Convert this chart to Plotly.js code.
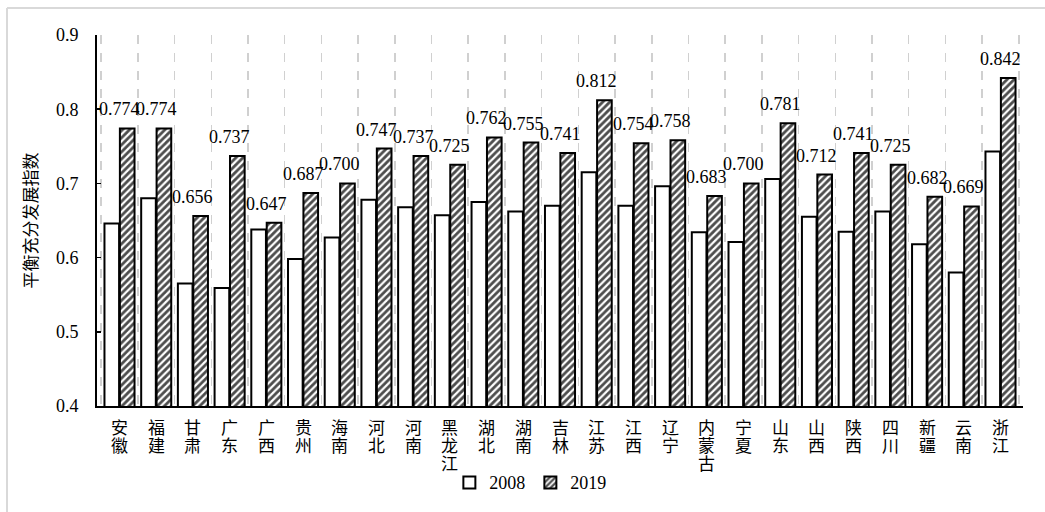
<!DOCTYPE html>
<html>
<head>
<meta charset="utf-8">
<script src="https://cdn.plot.ly/plotly-3.0.1.min.js"></script>
<style>
  html, body { margin: 0; padding: 0; background: #fff; }
  #chart { width: 1045px; height: 512px; }
</style>
</head>
<body>
<div id="chart"></div>
<script>
// Provinces along the horizontal axis
const provinces = ['安徽', '福建', '甘肃', '广东', '广西', '贵州', '海南', '河北', '河南', '黑龙江',
  '湖北', '湖南', '吉林', '江苏', '江西', '辽宁', '内蒙古', '宁夏', '山东', '山西',
  '陕西', '四川', '新疆', '云南', '浙江'];

// Index values, 2008
const values2008 = [0.646, 0.680, 0.565, 0.559, 0.638, 0.598, 0.627, 0.678, 0.668, 0.657,
  0.675, 0.662, 0.670, 0.715, 0.670, 0.696, 0.634, 0.621, 0.706, 0.655,
  0.635, 0.662, 0.618, 0.580, 0.743];

// Index values, 2019
const values2019 = [0.774, 0.774, 0.656, 0.737, 0.647, 0.687, 0.700, 0.747, 0.737, 0.725,
  0.762, 0.755, 0.741, 0.812, 0.754, 0.758, 0.683, 0.700, 0.781, 0.712,
  0.741, 0.725, 0.682, 0.669, 0.842];

const yTicks = [0.4, 0.5, 0.6, 0.7, 0.8, 0.9];
const seriesNames = ['2008', '2019'];
const yTitle = '平衡充分发展指数';

const numFont = '"Liberation Serif", "Times New Roman", "Noto Sans CJK SC", serif';
const cjkFont = '"Liberation Serif", "Noto Sans CJK SC", serif';

const traces = [
  {
    type: 'bar',
    name: seriesNames[0],
    x: provinces,
    y: values2008,
    marker: { color: '#ffffff', line: { color: '#000000', width: 2 } },
    hoverinfo: 'x+y'
  },
  {
    type: 'bar',
    name: seriesNames[1],
    x: provinces,
    y: values2019,
    marker: {
      color: '#ffffff',
      line: { color: '#000000', width: 2 },
      pattern: { shape: '/', fgcolor: '#4d4d4d', bgcolor: '#ffffff', size: 5, solidity: 0.55, fillmode: 'replace' }
    },
    hoverinfo: 'x+y'
  }
];

const annotations = [];

// Value labels above the 2019 bars
provinces.forEach((p, i) => {
  annotations.push({
    x: p, y: values2019[i], xref: 'x', yref: 'y',
    text: values2019[i].toFixed(3),
    showarrow: false, xanchor: 'center', yanchor: 'middle', yshift: 19,
    font: { family: numFont, size: 18, color: '#000' }
  });
});

// Category names written top-to-bottom, one character per line
provinces.forEach(p => {
  Array.from(p).forEach((ch, j) => {
    annotations.push({
      x: p, y: 0, xref: 'x', yref: 'paper',
      text: ch, showarrow: false, xanchor: 'center', yanchor: 'middle',
      yshift: -(22 + j * 18.3),
      font: { family: cjkFont, size: 17, color: '#000' }
    });
  });
});

const layout = {
  width: 1045,
  height: 512,
  margin: { l: 97, r: 22, t: 35, b: 105 },
  paper_bgcolor: '#ffffff',
  plot_bgcolor: '#ffffff',
  barmode: 'group',
  bargap: 0.16,
  bargroupgap: 0.05,
  showlegend: true,
  legend: {
    orientation: 'h', x: 0.468, xanchor: 'center', y: -0.2035, yanchor: 'middle',
    font: { family: numFont, size: 18, color: '#000' },
    itemwidth: 30, tracegroupgap: 0, traceorder: 'normal',
    bgcolor: 'rgba(0,0,0,0)'
  },
  xaxis: {
    type: 'category',
    showticklabels: false,
    ticks: '',
    tickson: 'boundaries',
    showgrid: true,
    gridcolor: '#d0d0d0',
    griddash: 'dash',
    gridwidth: 1.5,
    showline: true,
    linecolor: '#000000',
    linewidth: 2,
    zeroline: false,
    fixedrange: true
  },
  yaxis: {
    range: [0.4, 0.9],
    tickvals: yTicks,
    ticktext: yTicks.map(v => v.toFixed(1)),
    ticks: 'inside',
    ticklen: 4,
    tickwidth: 1.5,
    tickcolor: '#000',
    ticklabelstandoff: 13,
    showgrid: false,
    zeroline: false,
    showline: true,
    linecolor: '#000000',
    linewidth: 2,
    tickfont: { family: numFont, size: 18, color: '#000' },
    title: { text: yTitle, font: { family: cjkFont, size: 17, color: '#000' }, standoff: 14 },
    fixedrange: true
  },
  shapes: [
    // light frame around the figure (top and left edges)
    { type: 'line', xref: 'paper', yref: 'paper', x0: -0.0972, x1: 1.03, y0: 1.0726, y1: 1.0726,
      line: { color: '#d9d9d9', width: 2 } },
    { type: 'line', xref: 'paper', yref: 'paper', x0: -0.0972, x1: -0.0972, y0: 1.0726, y1: -0.29,
      line: { color: '#d9d9d9', width: 2 } }
  ],
  annotations: annotations
};

Plotly.newPlot('chart', traces, layout, { staticPlot: true, displayModeBar: false });
</script>
</body>
</html>
